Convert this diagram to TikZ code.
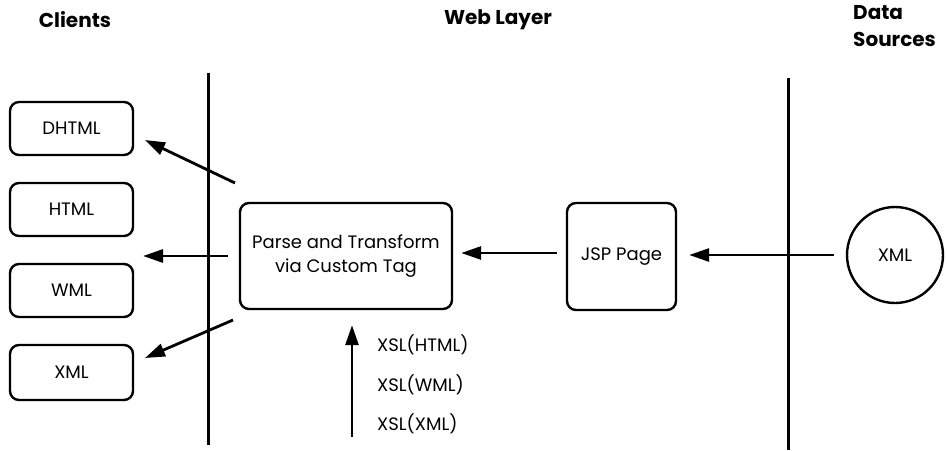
\documentclass[tikz,border=0pt]{standalone}
\usepackage{fontspec}
\setmainfont{Poppins}
\usetikzlibrary{arrows.meta}
\begin{document}
\begin{tikzpicture}[x=1pt,y=-1pt,
  box/.style={draw,line width=2.4pt,rounded corners=9pt,align=center,inner sep=0pt,font=\fontsize{18}{24}\selectfont},
  lbl/.style={font=\fontsize{18}{20}\selectfont,inner sep=0pt},
  head/.style={font=\bfseries\fontsize{20}{27}\selectfont,inner sep=0pt},
  sep/.style={line width=3pt},
  arr/.style={line width=2.8pt,-{Triangle[length=20pt,width=13pt]}}]
\useasboundingbox (0,0) rectangle (947,450);
% headers
\node[head] (hc) at (75,20) {Clients};
\node[head] (hw) at (498,20) {Web Layer};
\node[head,align=left,anchor=north west] (hd) at (853,5) {Data\\Sources};
% separators
\coordinate (s1t) at (208,73); \coordinate (s1b) at (208,445);
\coordinate (s2t) at (788,78); \coordinate (s2b) at (788,450);
\draw[sep] (s1t) -- (s1b);
\draw[sep] (s2t) -- (s2b);
% clients
\node[box,minimum width=123pt,minimum height=53pt] (dhtml) at (71.5,128.5) {DHTML};
\node[box,minimum width=123pt,minimum height=53pt] (html) at (71.5,209.5) {HTML};
\node[box,minimum width=123pt,minimum height=53pt] (wml) at (71.5,290.5) {WML};
\node[box,minimum width=123pt,minimum height=55pt] (xmlc) at (71.5,372.5) {XML};
% web layer
\node[box,minimum width=212pt,minimum height=106pt] (parse) at (346,256) {Parse and Transform\\via Custom Tag};
\node[box,minimum width=109pt,minimum height=107pt] (jsp) at (621.5,256.5) {JSP Page};
% data source
\node[draw,circle,line width=2.4pt,minimum size=96pt,inner sep=0pt,font=\fontsize{18}{20}\selectfont] (xmls) at (895,255) {XML};
% arrows
\draw[arr] (xmls.west) ++(-12,0) -- ([xshift=12pt]jsp.east |- 0,255);
\draw[arr] ([xshift=-9pt]jsp.west |- 0,253) -- ([xshift=8pt]parse.east |- 0,253);
\coordinate (a1s) at (235,183); \coordinate (a1e) at (145,140);
\draw[arr] (a1s) -- (a1e);
\coordinate (a2s) at (228,256); \coordinate (a2e) at (143,256);
\draw[arr] (a2s) -- (a2e);
\coordinate (a3s) at (233,320); \coordinate (a3e) at (145,358);
\draw[arr] (a3s) -- (a3e);
\coordinate (xslb) at (352,437);
\draw[arr] (xslb) -- ([yshift=-15pt]parse.south -| xslb);
% xsl labels
\node[lbl,anchor=west] (x1) at (377,345) {XSL(HTML)};
\node[lbl,anchor=west] (x2) at (377,385) {XSL(WML)};
\node[lbl,anchor=west] (x3) at (377,424) {XSL(XML)};
\end{tikzpicture}
\end{document}
